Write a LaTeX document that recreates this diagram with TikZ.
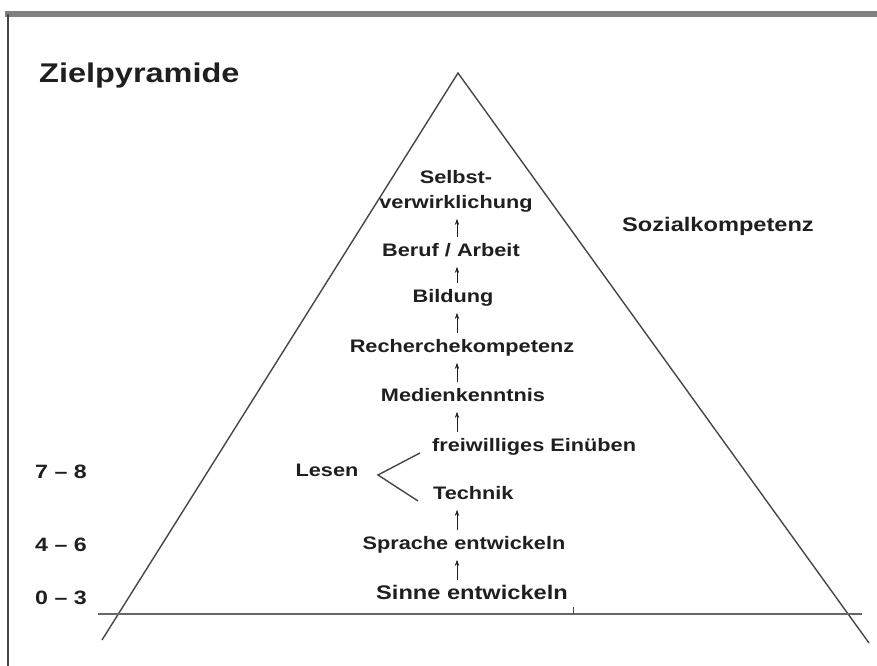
\documentclass[tikz,border=0pt]{standalone}
\usepackage{fontspec}
\setmainfont{Liberation Sans}[FakeStretch=1.2]
\usetikzlibrary{arrows.meta}
\definecolor{zp_ink}{rgb}{.12, .12, .12}
\definecolor{zp_line}{rgb}{.28, .28, .28}
\definecolor{zp_frame}{rgb}{.5, .5, .5}

\begin{document}
\begin{tikzpicture}[x=0.02cm, y=-0.02cm,
    stufe/.style={font=\bfseries\fontsize{10.3}{14.2}\selectfont, text=zp_ink,
      inner sep=1pt, text height=0.75em, text depth=0.2em, align=center},
    alter/.style={font=\bfseries\fontsize{11}{13}\selectfont, text=zp_ink},
    hoch/.style={-{Stealth[length=3.5pt, width=2.5pt]}, zp_ink, line width=0.4pt,
      shorten <=2.5pt, shorten >=2.5pt}]
    % Canvas 877 x 666 px, y counted downwards
    \useasboundingbox (0,0) rectangle (877,666);
    \fill[white] (0,0) rectangle (877,666);

    % Frame: top rule and left rule
    \draw[zp_frame, line width=3pt] (5,14) -- (877,14);
    \draw[zp_line, line width=1.2pt] (8,14) -- (8,666);

    % Title
    \node[font=\bfseries\fontsize{15.4}{18}\selectfont, text=zp_ink, anchor=west]
      (titel) at (33,76) {Zielpyramide};

    % Pyramid sides and ground line
    \draw[zp_line, line width=0.8pt] (102,640) -- (458,73) -- (869,643);
    \draw[zp_frame!80!black, line width=1.6pt] (98,614) -- (862,614);
    \draw[zp_line, line width=0.4pt] (573,607) -- (573,614);

    % Axis of the arrows
    \coordinate (achse) at (457,0);

    % Steps of the pyramid
    \node[stufe] (selbst)  at (456,204) {Selbst-\\verwirklichung};
    \node[stufe] (beruf)   at (451,252) {Beruf / Arbeit};
    \node[stufe] (bildung) at (453,298) {Bildung};
    \node[stufe] (recherche) at (462,348) {Recherchekompetenz};
    \node[stufe] (medien)  at (463,397) {Medienkenntnis};
    \node[stufe, anchor=west] (frei)    at (430,447) {freiwilliges Einüben};
    \node[stufe, anchor=west] (technik) at (431,495) {Technik};
    \node[stufe] (lesen)   at (327,472) {Lesen};
    \node[stufe] (sprache) at (464,545) {Sprache entwickeln};
    \node[stufe, font=\bfseries\fontsize{11.2}{13}\selectfont] (sinne) at (472,595) {Sinne entwickeln};
    \node[stufe, font=\bfseries\fontsize{11.2}{13}\selectfont] (sozial) at (718,227) {Sozialkompetenz};

    % Age groups
    \node[alter] (a78) at (61,472) {7 – 8};
    \node[alter] (a46) at (61,545) {4 – 6};
    \node[alter] (a03) at (61,598) {0 – 3};

    % Arrows upwards
    \draw[hoch] (sinne.north -| achse) -- (sprache.south -| achse);
    \draw[hoch] (sprache.north -| achse) -- (technik.south -| achse);
    \draw[hoch] (frei.north -| achse) -- (medien.south -| achse);
    \draw[hoch] (medien.north -| achse) -- (recherche.south -| achse);
    \draw[hoch] (recherche.north -| achse) -- (bildung.south -| achse);
    \draw[hoch] (bildung.north -| achse) -- (beruf.south -| achse);
    \draw[hoch] (beruf.north -| achse) -- (selbst.south -| achse);

    % Fork from Lesen
    \coordinate (gabel) at (378,475);
    \draw[zp_line, line width=0.8pt] ([xshift=-5.7pt, yshift=-3.4pt]frei.west) -- (gabel)
      -- ([xshift=-7.4pt, yshift=-3.4pt]technik.west);
\end{tikzpicture}
\end{document}
